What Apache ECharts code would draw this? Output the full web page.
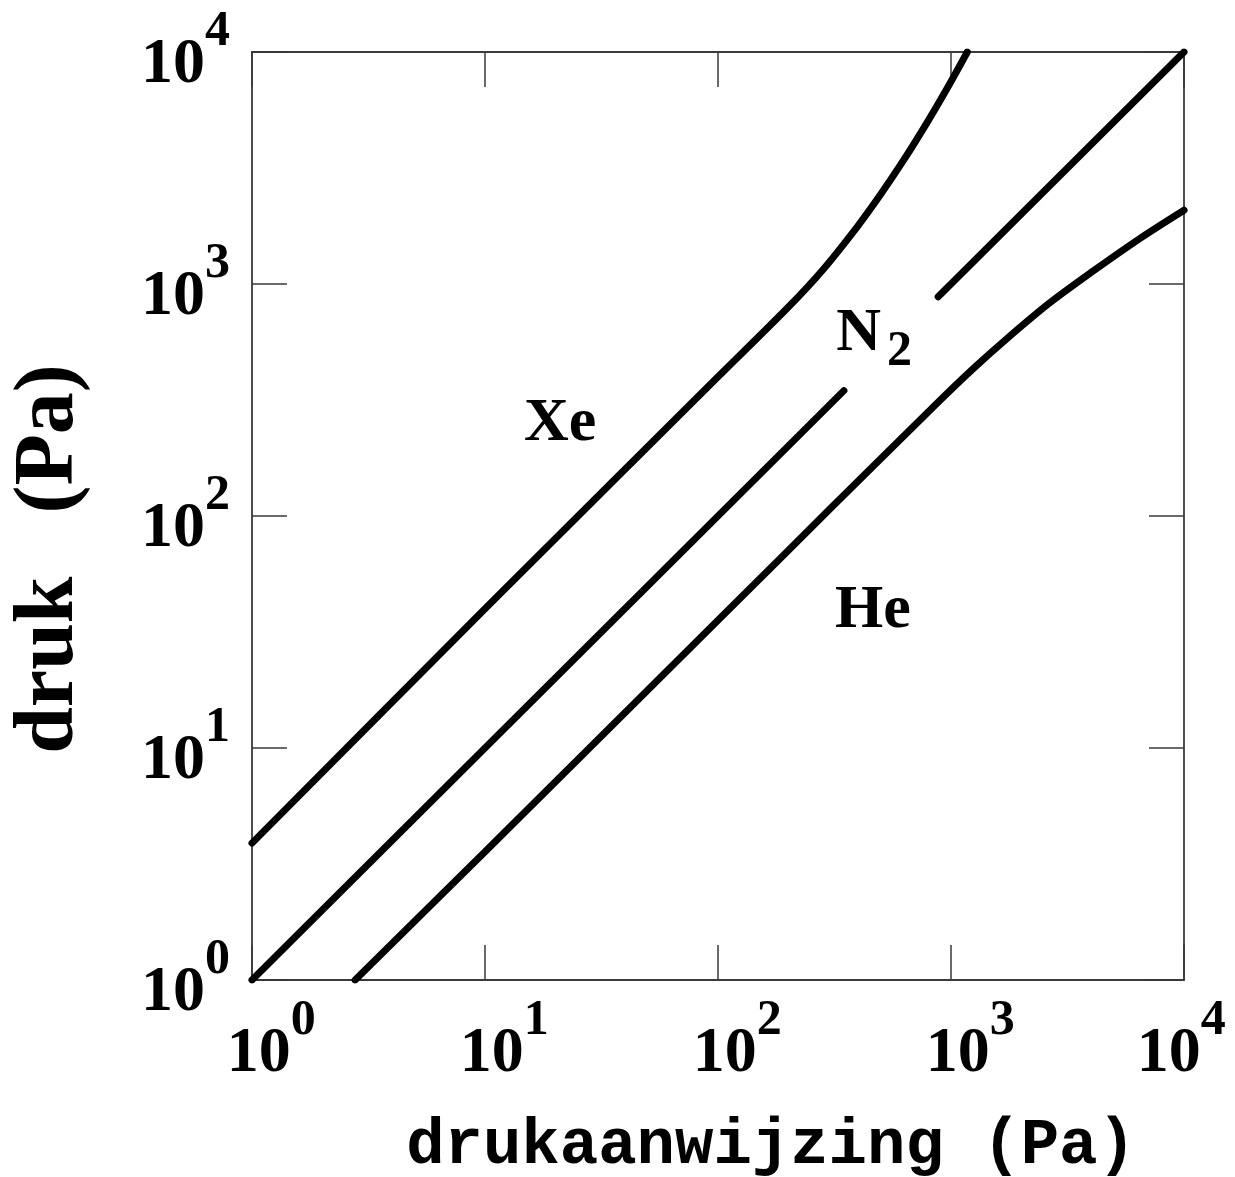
<!DOCTYPE html>
<html lang="nl">
<head>
  <meta charset="UTF-8">
  <title>druk vs drukaanwijzing</title>
  <script src="https://cdn.jsdelivr.net/npm/echarts@6/dist/echarts.min.js"></script>
  <style>
    body { margin: 0; background: #fff; }
    #chart { width: 1235px; height: 1177px; }
  </style>
</head>
<body>
  <div id="chart"></div>
  <script>
    // meetwaarden (x = drukaanwijzing, y = werkelijke druk)
    const xeData = [
      [1, 3.89], [10, 39.8], [100, 398], [200, 794], [282, 1153], [398, 1778],
      [501, 2448], [631, 3459], [794, 5012], [955, 6871], [1175, 10000]
    ];
    const n2LowData = [[1, 1], [347, 347]];
    const n2HighData = [[881, 881], [10000, 10000]];
    const heData = [
      [2.77, 1], [10, 3.57], [100, 35.5], [316, 112], [891, 313], [1259, 436],
      [1738, 582], [2630, 824], [3981, 1119], [6457, 1570], [10000, 2080]
    ];
    // plaats van de gasnamen (in data-coördinaten)
    const gasLabels = [
      [21, 249, 'Xe'],
      [468, 607, 'N2'],
      [462, 39, 'He']
    ];

    const serif = '"Liberation Serif", "DejaVu Serif", serif';
    const axisColor = '#3a3a3a';

    const tickRich = {
      h: { fontSize: 1, lineHeight: 90 },
      b: { fontFamily: serif, fontWeight: 'bold', fontSize: 64, lineHeight: 64, color: '#000', verticalAlign: 'bottom' },
      s: { fontFamily: serif, fontWeight: 'bold', fontSize: 50, lineHeight: 40, color: '#000', verticalAlign: 'top' },
      r: { fontSize: 1, width: 44 }
    };
    function powLabel(v) {
      const e = Math.round(Math.log10(v));
      return '{h| }{b|10}{s|' + e + '}';
    }
    // laatste label onder de x-as schuift naar links zodat het binnen beeld blijft
    function powLabelX(v) {
      const e = Math.round(Math.log10(v));
      return powLabel(v) + (e === 4 ? '{r| }' : '');
    }

    function lineSeries(data) {
      return {
        type: 'line',
        data: data,
        showSymbol: false,
        smooth: 0.3,
        lineStyle: { color: '#000', width: 7, cap: 'round' },
        silent: true
      };
    }

    const baseAxis = {
      type: 'log',
      logBase: 10,
      min: 1,
      max: 10000,
      interval: 1,
      axisLine: { show: true, lineStyle: { color: axisColor, width: 1.8 } },
      axisTick: { show: true, inside: true, length: 35, lineStyle: { color: axisColor, width: 1.5 } },
      splitLine: { show: false },
      minorTick: { show: false }
    };

    const chart = echarts.init(document.getElementById('chart'));
    chart.setOption({
      animation: false,
      backgroundColor: '#fff',
      grid: { left: 252, right: 51, top: 52, bottom: 197, containLabel: false, outerBoundsMode: 'none' },
      xAxis: [
        Object.assign({}, baseAxis, {
          position: 'bottom',
          name: 'drukaanwijzing (Pa)',
          nameLocation: 'middle',
          nameGap: 135,
          nameTextStyle: {
            fontFamily: '"Liberation Mono", "DejaVu Sans Mono", monospace',
            fontWeight: 'bold', fontSize: 64, color: '#000',
            verticalAlign: 'top', padding: [0, 0, 0, 106]
          },
          axisLabel: {
            margin: 16, formatter: powLabelX, rich: tickRich,
            align: 'center', padding: [0, 0, 0, 38]
          }
        }),
        Object.assign({}, baseAxis, { position: 'top', axisLabel: { show: false } })
      ],
      yAxis: [
        Object.assign({}, baseAxis, {
          position: 'left',
          name: 'druk   (Pa)',
          nameLocation: 'middle',
          nameGap: 160,
          nameTextStyle: {
            fontFamily: serif, fontWeight: 'bold', fontSize: 84, color: '#000',
            padding: [0, 86, 0, 0]
          },
          axisLabel: { margin: 22, formatter: powLabel, rich: tickRich }
        }),
        Object.assign({}, baseAxis, { position: 'right', axisLabel: { show: false } })
      ],
      series: [
        lineSeries(xeData),
        lineSeries(n2LowData),
        lineSeries(n2HighData),
        lineSeries(heData),
        {
          type: 'scatter',
          symbolSize: 0,
          silent: true,
          itemStyle: { opacity: 1 },
          data: gasLabels.map(d => ({ value: [d[0], d[1]], name: d[2] })),
          label: {
            show: true,
            position: 'inside',
            color: '#000',
            formatter: p => p.name === 'N2' ? '{g|N}{sub|2}' : '{g|' + p.name + '}',
            rich: {
              g: { fontFamily: serif, fontWeight: 'bold', fontSize: 62, color: '#000', lineHeight: 62, verticalAlign: 'top' },
              sub: { fontFamily: serif, fontWeight: 'bold', fontSize: 50, color: '#000', lineHeight: 50, padding: [24, 0, 0, 6], verticalAlign: 'top' }
            }
          }
        }
      ]
    });
  </script>
</body>
</html>
